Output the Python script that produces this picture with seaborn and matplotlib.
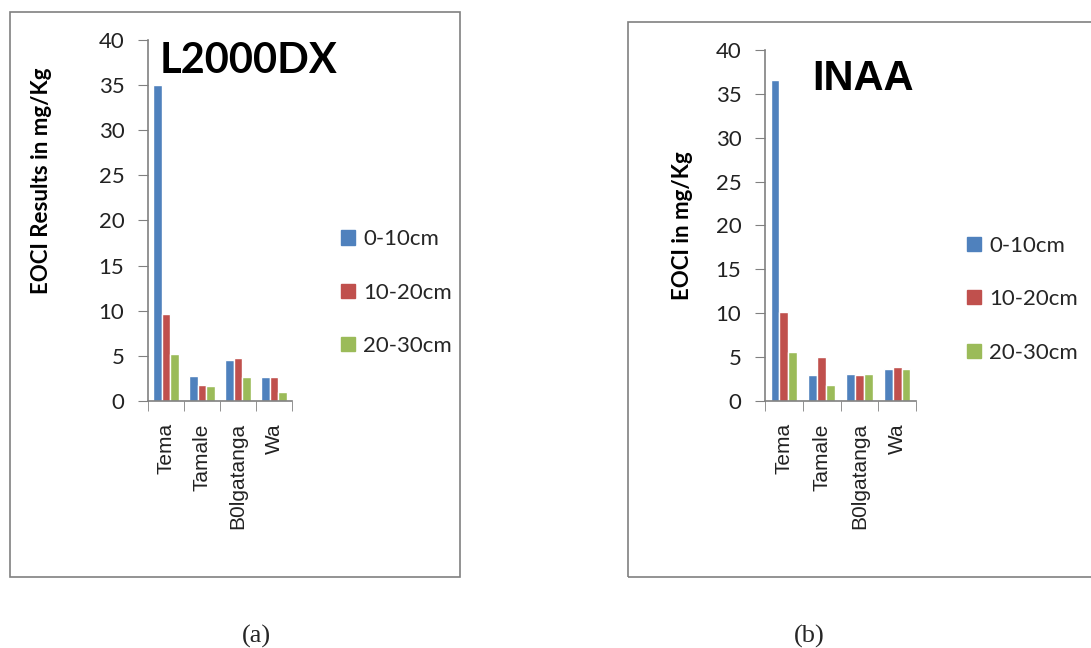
import pandas as pd
import matplotlib.pyplot as plt
import matplotlib.patches as mpatches
import seaborn as sns

# data
sites = ["Tema", "Tamale", "B0lgatanga", "Wa"]
depths = ["0-10cm", "10-20cm", "20-30cm"]
l2000_0_10 = [35.0, 2.8, 4.5, 2.7]
l2000_10_20 = [9.6, 1.8, 4.8, 2.7]
l2000_20_30 = [5.2, 1.7, 2.7, 1.0]
inaa_0_10 = [36.6, 3.0, 3.1, 3.6]
inaa_10_20 = [10.1, 5.0, 3.0, 3.9]
inaa_20_30 = [5.6, 1.8, 3.1, 3.6]

colors = ["#4F81BD", "#C0504D", "#9BBB59"]


def long_form(a, b, c):
	rows = []
	for vals, d in zip([a, b, c], depths):
		for s, v in zip(sites, vals):
			rows.append({"site": s, "depth": d, "value": v})
	return pd.DataFrame(rows)


df_l = long_form(l2000_0_10, l2000_10_20, l2000_20_30)
df_i = long_form(inaa_0_10, inaa_10_20, inaa_20_30)

sns.set_style("white")
plt.rcParams["font.family"] = ["Lato", "DejaVu Sans"]

fig = plt.figure(figsize=(10.91, 6.48), dpi=100)

# panel frames
fig.patches.append(mpatches.Rectangle((0.0092, 0.1096), 0.4124, 0.8719, transform=fig.transFigure,
	fill=False, edgecolor="#808080", linewidth=1.2))
fig.patches.append(mpatches.Rectangle((0.5756, 0.1096), 0.44, 0.8564, transform=fig.transFigure,
	fill=False, edgecolor="#808080", linewidth=1.2))

ax1 = fig.add_axes([0.1357, 0.3812, 0.1320, 0.5571])
ax2 = fig.add_axes([0.7012, 0.3812, 0.1384, 0.5417])

# (axes, data, ylabel, ylabel x, ylabel y, title, title font, title size, title pos, legend pos)
panels = [
	(ax1, df_l, "EOCI Results in mg/Kg", -0.67, 0.61, "L2000DX", "Lato", 30, (0.08, 0.995), (1.28, 0.30)),
	(ax2, df_i, "EOCI in mg/Kg", -0.48, 0.50, "INAA", "Liberation Sans", 30, (0.31, 0.975), (1.28, 0.29)),
]

for ax, df, ylab, lx, ly, title, tfont, tsize, tpos, lpos in panels:
	sns.barplot(data=df, x="site", y="value", hue="depth", palette=colors,
		width=0.7, gap=0, saturation=1, ax=ax, legend=False)
	ax.set_ylim(0, 40)
	ax.set_xlim(-0.5, 3.5)
	ax.set_yticks(range(0, 41, 5))
	ax.tick_params(axis="y", labelsize=16, length=7, color="#808080", direction="out",
		left=True, pad=10, labelcolor="#222222")
	ax.set_xticks(range(4))
	ax.set_xticklabels(sites, rotation=90, fontsize=15, family="Liberation Sans")
	ax.tick_params(axis="x", length=0, pad=16, labelcolor="#222222")
	ax.set_xticks([-0.5, 0.5, 1.5, 2.5, 3.5], minor=True)
	ax.tick_params(axis="x", which="minor", length=7, color="#808080", direction="out", bottom=True)
	for sp in ["top", "right"]:
		ax.spines[sp].set_visible(False)
	for sp in ["left", "bottom"]:
		ax.spines[sp].set_color("#808080")
		ax.spines[sp].set_linewidth(1.2)
	ax.set_xlabel("")
	ax.set_ylabel(ylab, fontsize=16, fontweight="bold", color="black")
	ax.yaxis.set_label_coords(lx, ly)
	ax.text(tpos[0], tpos[1], title, transform=ax.transAxes, fontsize=tsize, fontweight="bold",
		family=tfont, va="top", ha="left", color="black")
	handles = [mpatches.Patch(color=c) for c in colors]
	ax.legend(handles, depths, loc="center left", bbox_to_anchor=lpos, frameon=False,
		fontsize=16, handlelength=0.6, handleheight=0.6, handletextpad=0.4, labelspacing=1.5,
		borderaxespad=0)

fig.text(0.2346, 0.0185, "(a)", fontsize=19, family="Liberation Serif", ha="center", va="center")
fig.text(0.7415, 0.0185, "(b)", fontsize=19, family="Liberation Serif", ha="center", va="center")

fig.savefig("out.png", dpi=100)
